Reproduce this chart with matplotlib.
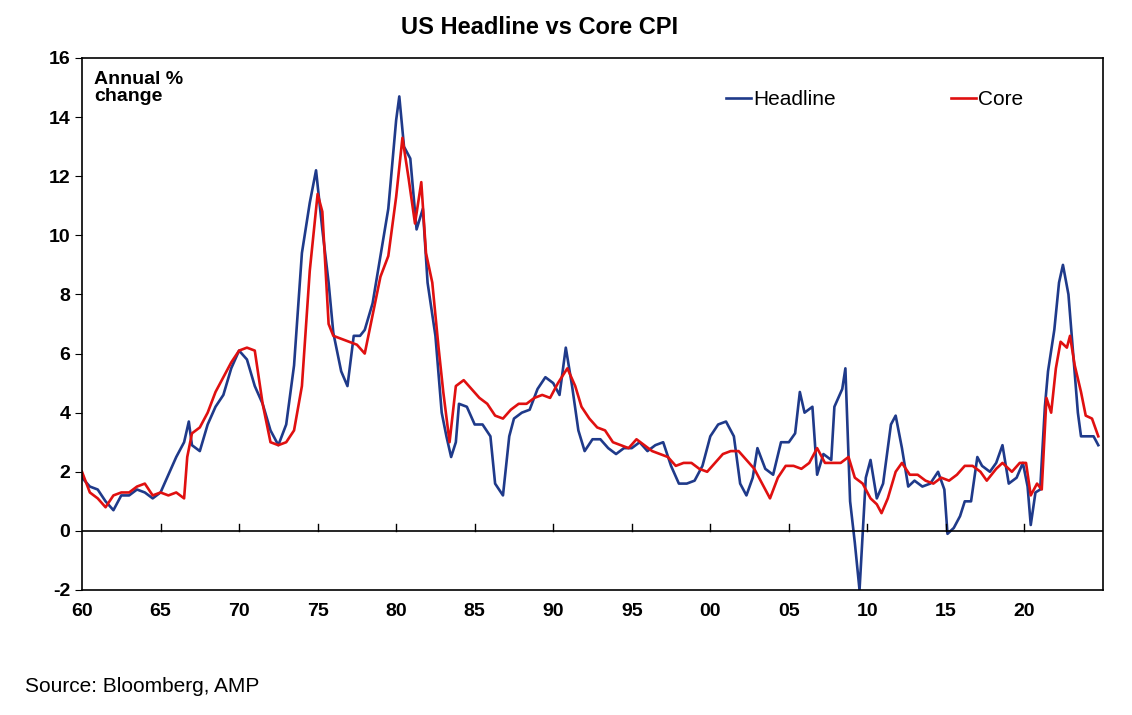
import matplotlib.pyplot as plt

plt.rcParams['font.family'] = ['Liberation Sans', 'DejaVu Sans']
plt.rcParams['axes.unicode_minus'] = False

head_x = [1960, 1960.5, 1961, 1961.5, 1962, 1962.5, 1963, 1963.5, 1964, 1964.5, 1965, 1965.5, 1966, 1966.5, 1966.8,
          1967, 1967.5, 1968, 1968.5, 1969, 1969.5, 1970, 1970.5, 1971, 1971.5, 1972, 1972.5, 1973, 1973.5, 1974,
          1974.5, 1974.9, 1975.3, 1975.7, 1976, 1976.5, 1976.9, 1977.3, 1977.7, 1978, 1978.5, 1979, 1979.5, 1980,
          1980.2, 1980.5, 1980.9, 1981.3, 1981.7, 1982, 1982.5, 1982.9, 1983.2, 1983.5, 1983.8, 1984, 1984.5, 1985,
          1985.5, 1986, 1986.3, 1986.8, 1987.2, 1987.5, 1988, 1988.5, 1989, 1989.5, 1990, 1990.4, 1990.8, 1991.2,
          1991.6, 1992, 1992.5, 1993, 1993.5, 1994, 1994.5, 1995, 1995.5, 1996, 1996.5, 1997, 1997.5, 1998, 1998.5,
          1999, 1999.5, 2000, 2000.5, 2001, 2001.5, 2001.9, 2002.3, 2002.7, 2003, 2003.5, 2004, 2004.5, 2005,
          2005.4, 2005.7, 2006, 2006.5, 2006.8, 2007.2, 2007.7, 2007.9, 2008.4, 2008.6, 2008.9, 2009.2, 2009.5,
          2009.9, 2010.2, 2010.6, 2011, 2011.5, 2011.8, 2012.2, 2012.6, 2013, 2013.5, 2014, 2014.5, 2014.9, 2015.1,
          2015.5, 2015.9, 2016.2, 2016.6, 2017, 2017.3, 2017.8, 2018.2, 2018.6, 2019, 2019.5, 2019.9, 2020.2,
          2020.4, 2020.7, 2021, 2021.3, 2021.5, 2021.9, 2022.2, 2022.45, 2022.8, 2023.1, 2023.4, 2023.6, 2024,
          2024.4, 2024.7]
head_y = [1.8, 1.5, 1.4, 1.0, 0.7, 1.2, 1.2, 1.4, 1.3, 1.1, 1.3, 1.9, 2.5, 3.0, 3.7,
          2.9, 2.7, 3.6, 4.2, 4.6, 5.5, 6.1, 5.8, 4.9, 4.3, 3.4, 2.9, 3.6, 5.6, 9.4,
          11.1, 12.2, 10.2, 8.4, 6.7, 5.4, 4.9, 6.6, 6.6, 6.8, 7.7, 9.3, 10.9, 13.9,
          14.7, 13.0, 12.6, 10.2, 10.9, 8.4, 6.6, 4.0, 3.2, 2.5, 3.0, 4.3, 4.2, 3.6,
          3.6, 3.2, 1.6, 1.2, 3.2, 3.8, 4.0, 4.1, 4.8, 5.2, 5.0, 4.6, 6.2, 4.9,
          3.4, 2.7, 3.1, 3.1, 2.8, 2.6, 2.8, 2.8, 3.0, 2.7, 2.9, 3.0, 2.2, 1.6, 1.6,
          1.7, 2.2, 3.2, 3.6, 3.7, 3.2, 1.6, 1.2, 1.8, 2.8, 2.1, 1.9, 3.0, 3.0,
          3.3, 4.7, 4.0, 4.2, 1.9, 2.6, 2.4, 4.2, 4.8, 5.5, 1.0, -0.4, -2.0,
          1.8, 2.4, 1.1, 1.6, 3.6, 3.9, 2.8, 1.5, 1.7, 1.5, 1.6, 2.0, 1.4, -0.1,
          0.1, 0.5, 1.0, 1.0, 2.5, 2.2, 2.0, 2.3, 2.9, 1.6, 1.8, 2.3, 1.5,
          0.2, 1.3, 1.4, 4.2, 5.4, 6.8, 8.4, 9.0, 8.0, 6.0, 4.0, 3.2, 3.2,
          3.2, 2.9]

core_x = [1960, 1960.5, 1961, 1961.5, 1962, 1962.5, 1963, 1963.5, 1964, 1964.5, 1965, 1965.5, 1966, 1966.5, 1966.7,
          1967, 1967.5, 1968, 1968.5, 1969, 1969.5, 1970, 1970.5, 1971, 1971.5, 1972, 1972.5, 1973, 1973.5, 1974,
          1974.5, 1975, 1975.3, 1975.7, 1976, 1976.5, 1977, 1977.5, 1978, 1978.5, 1979, 1979.5, 1980, 1980.4,
          1980.8, 1981.2, 1981.6, 1981.9, 1982.3, 1982.7, 1983, 1983.4, 1983.8, 1984.3, 1984.8, 1985.3, 1985.8,
          1986.3, 1986.8, 1987.3, 1987.8, 1988.3, 1988.8, 1989.3, 1989.8, 1990.3, 1990.9, 1991.4, 1991.8, 1992.3,
          1992.8, 1993.3, 1993.8, 1994.3, 1994.8, 1995.3, 1995.8, 1996.3, 1996.8, 1997.3, 1997.8, 1998.3, 1998.8,
          1999.3, 1999.8, 2000.3, 2000.8, 2001.3, 2001.8, 2002.3, 2002.8, 2003.3, 2003.8, 2004.3, 2004.8, 2005.3,
          2005.8, 2006.3, 2006.8, 2007.3, 2007.8, 2008.3, 2008.8, 2009.2, 2009.7, 2010.2, 2010.6, 2010.9, 2011.3,
          2011.8, 2012.2, 2012.7, 2013.2, 2013.7, 2014.2, 2014.7, 2015.2, 2015.7, 2016.2, 2016.7, 2017.2, 2017.6,
          2018.2, 2018.6, 2019.2, 2019.7, 2020.1, 2020.4, 2020.8, 2021.1, 2021.4, 2021.7, 2022.0, 2022.3, 2022.7,
          2022.9, 2023.2, 2023.6, 2023.9, 2024.3, 2024.7]
core_y = [2.0, 1.3, 1.1, 0.8, 1.2, 1.3, 1.3, 1.5, 1.6, 1.2, 1.3, 1.2, 1.3, 1.1, 2.5,
          3.3, 3.5, 4.0, 4.7, 5.2, 5.7, 6.1, 6.2, 6.1, 4.3, 3.0, 2.9, 3.0, 3.4, 4.9,
          8.8, 11.4, 10.8, 7.0, 6.6, 6.5, 6.4, 6.3, 6.0, 7.3, 8.6, 9.3, 11.3, 13.3,
          11.9, 10.4, 11.8, 9.4, 8.4, 6.2, 4.7, 3.0, 4.9, 5.1, 4.8, 4.5, 4.3,
          3.9, 3.8, 4.1, 4.3, 4.3, 4.5, 4.6, 4.5, 5.0, 5.5, 4.9, 4.2, 3.8,
          3.5, 3.4, 3.0, 2.9, 2.8, 3.1, 2.9, 2.7, 2.6, 2.5, 2.2, 2.3, 2.3,
          2.1, 2.0, 2.3, 2.6, 2.7, 2.7, 2.4, 2.1, 1.6, 1.1, 1.8, 2.2, 2.2,
          2.1, 2.3, 2.8, 2.3, 2.3, 2.3, 2.5, 1.8, 1.6, 1.1, 0.9, 0.6, 1.1,
          2.0, 2.3, 1.9, 1.9, 1.7, 1.6, 1.8, 1.7, 1.9, 2.2, 2.2, 2.0, 1.7,
          2.1, 2.3, 2.0, 2.3, 2.3, 1.2, 1.6, 1.4, 4.5, 4.0, 5.5, 6.4, 6.2,
          6.6, 5.6, 4.7, 3.9, 3.8, 3.2]

x_ticks = list(range(1960, 2026, 5))
x_labels = ['60', '65', '70', '75', '80', '85', '90', '95', '00', '05', '10', '15', '20', '']

fig = plt.figure(figsize=(11.32, 7.15), dpi=100)
ax = fig.add_axes([82 / 1132, 125 / 715, 1021 / 1132, 532 / 715])

ax.plot(head_x, head_y, color='#1f3a8a', lw=1.9, label='Headline')
ax.plot(core_x, core_y, color='#e01010', lw=1.9, label='Core')

ax.set_xlim(1960, 2025)
ax.set_ylim(-2, 16)
ax.set_yticks(range(-2, 17, 2))
ax.set_xticks(x_ticks)
ax.set_xticklabels(x_labels)
ax.axhline(0, color='black', lw=1.2)
for t in x_ticks[1:-1]:
    ax.plot([t, t], [0, 0.25], color='black', lw=1)
ax.tick_params(axis='x', length=0, pad=9, labelsize=14)
ax.tick_params(axis='y', length=5, labelsize=14, direction='out')
for lab in ax.get_xticklabels() + ax.get_yticklabels():
    lab.set_fontweight('bold')
for s in ax.spines.values():
    s.set_linewidth(1.2)

ax.text(0.012, 0.975, 'Annual %\nchange', transform=ax.transAxes, va='top', ha='left',
        fontsize=14, fontweight='bold', linespacing=1.0)
ax.legend(loc='upper right', bbox_to_anchor=(0.94, 0.975), ncol=2, frameon=False, fontsize=15,
          handlelength=1.2, handletextpad=0.1, columnspacing=5.5)

fig.text(540 / 1132, 1 - 28 / 715, 'US Headline vs Core CPI', ha='center', va='center',
         fontsize=17, fontweight='bold')
fig.text(25 / 1132, 1 - 686 / 715, 'Source: Bloomberg, AMP', ha='left', va='center', fontsize=15)

fig.savefig('out.png', dpi=100)
